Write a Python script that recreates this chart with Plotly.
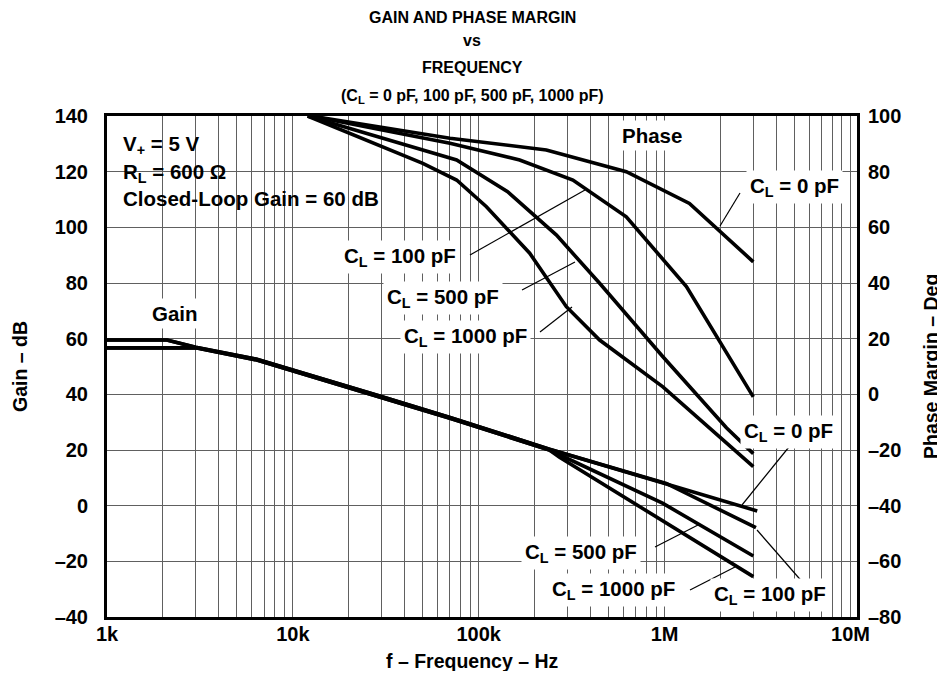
import plotly.graph_objects as go

# ---------------- data ----------------
# Gain curves: frequency (Hz) and gain (dB)
gain_0pF_freq = [1000, 2100, 3000, 6400, 29000, 70000, 240000, 1020000, 3150000]
gain_0pF_db = [59.5, 59.5, 56.9, 52.6, 39.5, 31.7, 20.3, 8.0, -1.9]
gain_100pF_freq = [1000, 2100, 3000, 6400, 29000, 70000, 240000, 1020000, 3100000]
gain_100pF_db = [59.5, 59.5, 56.9, 52.6, 39.5, 31.7, 20.3, 8.0, -7.9]
gain_500pF_freq = [1000, 3000, 6400, 29000, 70000, 240000, 980000, 3000000]
gain_500pF_db = [56.7, 56.7, 52.3, 39.2, 31.4, 20.0, 0.8, -18.1]
gain_1000pF_freq = [1000, 3000, 6400, 29000, 70000, 240000, 272000, 3000000]
gain_1000pF_db = [56.7, 56.7, 52.3, 39.2, 31.4, 20.0, 17.4, -25.5]

# Phase margin curves: frequency (Hz) and phase margin (deg)
phase_0pF_freq = [12500, 70000, 231000, 622000, 1360000, 3000000]
phase_0pF_deg = [100, 92, 87.8, 80, 68.6, 47.6]
phase_100pF_freq = [12500, 70000, 166000, 321000, 622000, 1310000, 3000000]
phase_100pF_deg = [100, 90.2, 84.2, 77, 63.8, 38.7, -0.9]
phase_500pF_freq = [12000, 50000, 76000, 143000, 262000, 447000, 979000, 2150000, 3000000]
phase_500pF_deg = [100, 87.7, 84.2, 72.8, 57.2, 39.9, 13.5, -12, -21.3]
phase_1000pF_freq = [12000, 50000, 76000, 110000, 188000, 296000, 447000, 979000, 3000000]
phase_1000pF_deg = [100, 83, 77, 67.4, 50.7, 31.5, 19.5, 2.7, -26]

# Axis ticks
freq_tickvals = [1e3, 1e4, 1e5, 1e6, 1e7]
freq_ticktext = ["1k", "10k", "100k", "1M", "10M"]
gain_tickvals = [-40, -20, 0, 20, 40, 60, 80, 100, 120, 140]
gain_ticktext = ["–40", "–20", "0", "20", "40", "60", "80", "100", "120", "140"]
phase_tickvals = [-80, -60, -40, -20, 0, 20, 40, 60, 80, 100]
phase_ticktext = ["–80", "–60", "–40", "–20", "0", "20", "40", "60", "80", "100"]

# ---------------- layout geometry (page pixels) ----------------
OFF = 8                              # default body margin of the html page
W, H = 945 - OFF, 679 - 2 * OFF      # figure fits inside the window without scrolling
L, R, T, B = 107, 857, 116, 617      # plot area as seen on the page
FONT = "Liberation Sans, Arial, sans-serif"


def px(x):
    return (x - L) / (R - L)


def py(y):
    return (B - y) / (B - T)


fig = go.Figure()

line_style = dict(color="black", width=3.6)
for f, g in [(gain_0pF_freq, gain_0pF_db), (gain_100pF_freq, gain_100pF_db),
             (gain_500pF_freq, gain_500pF_db), (gain_1000pF_freq, gain_1000pF_db)]:
    fig.add_trace(go.Scatter(x=f, y=g, mode="lines", line=line_style,
                             showlegend=False, hoverinfo="skip", yaxis="y"))
for f, p in [(phase_0pF_freq, phase_0pF_deg), (phase_100pF_freq, phase_100pF_deg),
             (phase_500pF_freq, phase_500pF_deg), (phase_1000pF_freq, phase_1000pF_deg)]:
    fig.add_trace(go.Scatter(x=f, y=p, mode="lines", line=line_style,
                             showlegend=False, hoverinfo="skip", yaxis="y2"))

minor_vals = [m * d for d in [1e3, 1e4, 1e5, 1e6] for m in range(2, 10)]
grid_color = "#606060"
tickfont = dict(family=FONT, size=20, color="black", weight="bold")

fig.update_layout(
    width=W, height=H,
    margin=dict(l=L - OFF, r=W - (R - OFF), t=T - OFF, b=H - (B - OFF), autoexpand=False),
    paper_bgcolor="white", plot_bgcolor="white",
    xaxis=dict(type="log", range=[3, 7.035], tickvals=freq_tickvals, ticktext=freq_ticktext,
               showgrid=True, gridcolor=grid_color, gridwidth=1.2,
               minor=dict(tickvals=minor_vals, showgrid=True, gridcolor=grid_color, gridwidth=1.2, ticks=""),
               showline=True, linecolor="black", linewidth=3, mirror=True,
               ticks="", tickfont=tickfont, ticklabelstandoff=-3, zeroline=False),
    yaxis=dict(range=[-40, 140], tickvals=gain_tickvals, ticktext=gain_ticktext,
               showgrid=True, gridcolor=grid_color, gridwidth=1.2,
               showline=True, linecolor="black", linewidth=3, mirror=True,
               ticks="", tickfont=tickfont, ticklabelstandoff=12, zeroline=False),
    yaxis2=dict(range=[-80, 100], tickvals=phase_tickvals, ticktext=phase_ticktext,
                overlaying="y", side="right", showgrid=False, zeroline=False,
                showline=True, linecolor="black", linewidth=3,
                ticks="", tickfont=tickfont, ticklabelstandoff=4),
)

ann = []
title_font = dict(family=FONT, size=16, color="black", weight="bold")
title_lines = ["GAIN AND PHASE MARGIN", "vs", "FREQUENCY",
               "(C<sub>L</sub> = 0 pF, 100 pF, 500 pF, 1000 pF)"]
for txt, yy in zip(title_lines, [17, 40, 68, 96]):
    ann.append(dict(text=txt, x=px(472), y=py(yy), xref="paper", yref="paper",
                    xanchor="center", yanchor="middle", showarrow=False, font=title_font))

lab_font = dict(family=FONT, size=20.5, color="black", weight="bold")
cond_lines = [("V<sub>+</sub> = 5 V", 145), ("R<sub>L</sub> = 600 Ω", 173),
              ("Closed-Loop Gain = 60 dB", 198)]
for txt, yy in cond_lines:
    ann.append(dict(text=txt, x=px(121), y=py(yy), xref="paper", yref="paper",
                    xanchor="left", yanchor="middle", showarrow=False, font=lab_font))

labels = [
    ("Gain", 175, 313),
    ("Phase", 652, 135),
    ("C<sub>L</sub> = 0 pF", 794, 187),
    ("C<sub>L</sub> = 100 pF", 400, 257),
    ("C<sub>L</sub> = 500 pF", 443, 298),
    ("C<sub>L</sub> = 1000 pF", 465, 337),
    ("C<sub>L</sub> = 0 pF", 788, 432),
    ("C<sub>L</sub> = 500 pF", 581, 553),
    ("C<sub>L</sub> = 1000 pF", 613, 590),
    ("C<sub>L</sub> = 100 pF", 770, 595),
]
for txt, xx, yy in labels:
    ann.append(dict(text=txt, x=px(xx), y=py(yy), xref="paper", yref="paper",
                    xanchor="center", yanchor="middle", showarrow=False,
                    bgcolor="white", borderpad=3, font=lab_font))

axis_font = dict(family=FONT, size=19.5, color="black", weight="bold")
ann.append(dict(text="f – Frequency – Hz", x=px(472), y=py(661), xref="paper", yref="paper",
                xanchor="center", yanchor="middle", showarrow=False, font=axis_font))
ann.append(dict(text="Gain – dB", x=px(20), y=py(367), xref="paper", yref="paper",
                xanchor="center", yanchor="middle", showarrow=False, textangle=-90, font=axis_font))
ann.append(dict(text="Phase Margin – Deg", x=px(931), y=py(367), xref="paper", yref="paper",
                xanchor="center", yanchor="middle", showarrow=False, textangle=-90, font=axis_font))
fig.update_layout(annotations=ann)

# white backing for the condition block, drawn beneath the curves
shapes = [dict(type="rect", xref="paper", yref="paper", layer="between",
               x0=px(109), x1=px(382), y0=py(211), y1=py(134),
               fillcolor="white", line=dict(width=0))]
leaders = [
    ((740, 193), (720, 226)),
    ((470, 255), (585, 190)),
    ((522, 290), (575, 262)),
    ((540, 332), (572, 307)),
    ((793, 442), (742, 505)),
    ((655, 547), (698, 525)),
    ((690, 590), (735, 567)),
    ((805, 585), (757, 530)),
]
for (x0, y0), (x1, y1) in leaders:
    shapes.append(dict(type="line", xref="paper", yref="paper",
                       x0=px(x0), y0=py(y0), x1=px(x1), y1=py(y1),
                       line=dict(color="black", width=1.2)))
fig.update_layout(shapes=shapes)

fig.write_html("out.html")
